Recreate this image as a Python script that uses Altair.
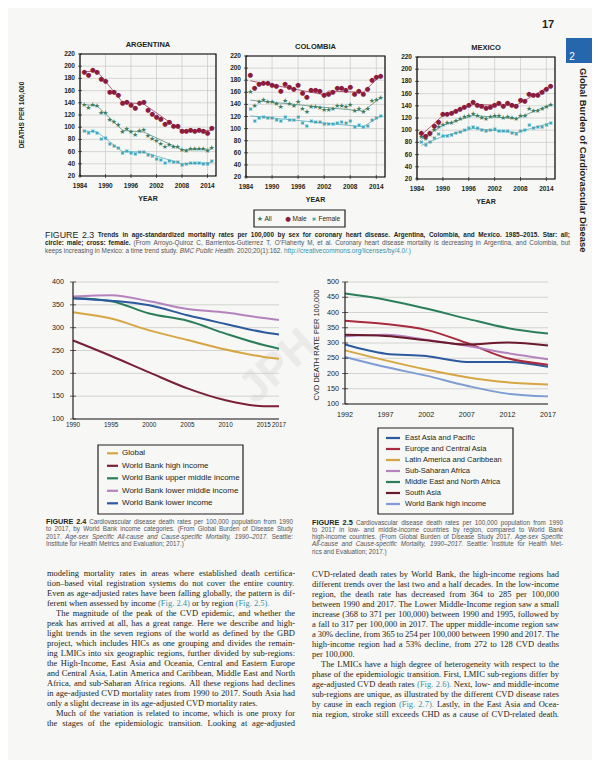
import altair as alt
import pandas as pd

BG = '#f7f7f5'
PANEL_BG = '#f7f7f5'
INK = '#231f20'
GRID = '#c9c9c9'
SANS = 'Liberation Sans'
SERIF = 'Liberation Serif'
GLYPH_FONT = 'DejaVu Sans'

# ---------------- Figure 2.3 data ----------------
YEARS = list(range(1985, 2016))
SEXES = ['All', 'Male', 'Female']
SEX_COLORS = ['#3d7d63', '#8c1c3e', '#3aa5b6']
SEX_GLYPHS = ['★', '●', '✖']
P_XTICKS = [1984, 1990, 1996, 2002, 2008, 2014]
P_YTICKS = [20, 40, 60, 80, 100, 120, 140, 160, 180, 200, 220]

ARG_ALL = [137, 132, 137, 134, 124, 124, 112, 108, 103, 92, 97, 92, 88, 93, 95, 86, 81, 77, 73, 68, 71, 68, 68, 62, 61, 65, 65, 64, 64, 61, 66]
ARG_MALE = [190, 186, 194, 191, 179, 175, 158, 158, 153, 139, 142, 136, 132, 140, 142, 128, 122, 117, 113, 106, 108, 102, 102, 93, 93, 95, 93, 95, 94, 91, 98]
ARG_FEMALE = [94, 90, 93, 91, 81, 82, 73, 70, 66, 58, 61, 58, 56, 60, 60, 54, 52, 48, 47, 42, 44, 43, 43, 38, 39, 42, 42, 41, 40, 39, 44]

COL_ALL = [160, 138, 144, 147, 144, 144, 140, 136, 145, 140, 138, 144, 133, 128, 136, 135, 134, 130, 130, 132, 137, 137, 135, 139, 129, 132, 128, 133, 145, 148, 151]
COL_MALE = [189, 167, 174, 176, 175, 172, 171, 162, 173, 169, 166, 172, 159, 153, 163, 163, 162, 156, 158, 161, 167, 167, 164, 169, 158, 162, 157, 165, 181, 186, 187]
COL_FEMALE = [133, 113, 117, 120, 117, 117, 115, 113, 120, 115, 115, 119, 110, 104, 112, 111, 111, 107, 107, 107, 110, 111, 109, 113, 103, 106, 102, 104, 114, 118, 121]

MEX_ALL = [89, 85, 92, 101, 106, 109, 111, 112, 115, 118, 122, 123, 127, 123, 120, 119, 122, 123, 124, 120, 122, 120, 118, 124, 124, 134, 131, 131, 134, 138, 142]
MEX_MALE = [96, 91, 95, 107, 114, 126, 127, 129, 132, 134, 138, 141, 146, 142, 140, 137, 138, 141, 144, 140, 144, 141, 140, 149, 148, 160, 157, 158, 163, 168, 173]
MEX_FEMALE = [80, 76, 80, 88, 93, 90, 91, 92, 95, 97, 100, 103, 105, 103, 100, 99, 100, 102, 98, 99, 98, 96, 94, 98, 100, 108, 103, 106, 105, 108, 112]

# joinpoint trend vertices
ARG_TR_YEARS = [1985, 1988, 1994, 1999, 2008, 2015]
ARG_TR_ALL = [137, 135, 95, 92, 63, 64]
ARG_TR_MALE = [191, 192, 141, 138, 94, 95]
ARG_TR_FEMALE = [94, 92, 60, 59, 40, 42]
COL_TR_YEARS_AF = [1985, 2011, 2015]
COL_TR_ALL = [147, 129, 151]
COL_TR_FEMALE = [121, 103, 121]
COL_TR_YEARS_M = [1985, 2002, 2003, 2011, 2015]
COL_TR_MALE = [179, 156, 162, 160, 188]
MEX_TR_YEARS = [1985, 1990, 1997, 2007, 2015]
MEX_TR_ALL = [85, 108, 124, 119, 142]
MEX_TR_MALE = [92, 124, 142, 141, 173]
MEX_TR_FEMALE = [75, 90, 103, 96, 112]

# ---------------- Figure 2.4 data ----------------
F24_YEARS = [1990, 1995, 2000, 2005, 2010, 2015, 2017]
F24_NAMES = ['Global', 'World Bank high income', 'World Bank upper middle income',
             'World Bank lower middle income', 'World Bank lower income']
F24_COLORS = ['#d6a642', '#7a1f35', '#2a7f5a', '#b483be', '#2c5aa0']
F24_GLOBAL = [334, 320, 294, 273, 252, 236, 232]
F24_HIGH = [272, 238, 202, 167, 141, 128, 128]
F24_UPPER = [365, 358, 331, 315, 287, 262, 254]
F24_LOWER_MID = [368, 371, 358, 341, 333, 321, 317]
F24_LOWER = [364, 359, 349, 327, 308, 290, 285]
F24_XTICKS = [1990, 1995, 2000, 2005, 2010, 2015, 2017]
F24_YTICKS = [100, 150, 200, 250, 300, 350, 400]

# ---------------- Figure 2.5 data ----------------
F25_YEARS = [1992, 1997, 2002, 2007, 2012, 2017]
F25_NAMES = ['East Asia and Pacific', 'Europe and Central Asia', 'Latin America and Caribbean',
             'Sub-Saharan Africa', 'Middle East and North Africa', 'South Asia', 'World Bank high income']
F25_COLORS = ['#2c5aa0', '#a82a3c', '#d6a642', '#b483be', '#2a7f5a', '#6b1a2c', '#7d9dd4']
F25_EAP = [295, 265, 257, 238, 238, 222]
F25_ECA = [373, 362, 343, 300, 250, 229]
F25_LAC = [276, 243, 213, 188, 171, 164]
F25_SSA = [322, 327, 311, 291, 267, 247]
F25_MENA = [462, 442, 413, 380, 349, 331]
F25_SA = [327, 323, 309, 295, 302, 292]
F25_HI = [254, 221, 193, 160, 134, 125]
F25_XTICKS = [1992, 1997, 2002, 2007, 2012, 2017]
F25_YTICKS = [100, 150, 200, 250, 300, 350, 400, 450, 500]

# ---------------- text ----------------
def L(segs, just=True, indent=0):
    if isinstance(segs, str):
        segs = [(segs, 'body')]
    return (segs, just, indent)

CAP23 = [
    L([('FIGURE 2.3', 'fig3'), ('Trends in age-standardized mortality rates per 100,000 by sex for coronary heart disease. Argentina, Colombia, and Mexico. 1985–2015. Star: all;', 'capb')]),
    L([('circle: male; cross: female.', 'capb'), ('(From Arroyo-Quiroz C, Barrientos-Gutierrez T, O’Flaherty M, et al. Coronary heart disease mortality is decreasing in Argentina, and Colombia, but', 'cap')]),
    L([('keeps increasing in Mexico: a time trend study.', 'cap'), ('BMC Public Health.', 'capi'), ('2020;20(1):162.', 'cap'), ('http://creativecommons.org/licenses/by/4.0/.)', 'link')], False),
]
CAP24 = [
    L([('FIGURE 2.4', 'figb'), ('Cardiovascular disease death rates per 100,000 population from 1990', 'cap')]),
    L([('to 2017, by World Bank income categories. (From Global Burden of Disease Study', 'cap')]),
    L([('2017.', 'cap'), ('Age-sex Specific All-cause and Cause-specific Mortality, 1990–2017.', 'capi'), ('Seattle:', 'cap')]),
    L([('Institute for Health Metrics and Evaluation; 2017.)', 'cap')], False),
]
CAP25 = [
    L([('FIGURE 2.5', 'figb'), ('Cardiovascular disease death rates per 100,000 population from 1990', 'cap')]),
    L([('to 2017 in low- and middle-income countries by region, compared to World Bank', 'cap')]),
    L([('high-income countries. (From Global Burden of Disease Study 2017.', 'cap'), ('Age-sex Specific', 'capi')]),
    L([('All-cause and Cause-specific Mortality, 1990–2017.', 'capi'), ('Seattle: Institute for Health Met-', 'cap')]),
    L([('rics and Evaluation; 2017.)', 'cap')], False),
]
BODY_LEFT = [
    L('modeling mortality rates in areas where established death certifica-'),
    L('tion–based vital registration systems do not cover the entire country.'),
    L('Even as age-adjusted rates have been falling globally, the pattern is dif-'),
    L([('ferent when assessed by income', 'body'), ('(Fig. 2.4)', 'ref'), ('or by region', 'body'), ('(Fig. 2.5).', 'ref')], False),
    L('The magnitude of the peak of the CVD epidemic, and whether the', True, 9),
    L('peak has arrived at all, has a great range. Here we describe and high-'),
    L('light trends in the seven regions of the world as defined by the GBD'),
    L('project, which includes HICs as one grouping and divides the remain-'),
    L('ing LMICs into six geographic regions, further divided by sub-regions:'),
    L('the High-Income, East Asia and Oceania, Central and Eastern Europe'),
    L('and Central Asia, Latin America and Caribbean, Middle East and North'),
    L('Africa, and sub-Saharan Africa regions. All these regions had declines'),
    L('in age-adjusted CVD mortality rates from 1990 to 2017. South Asia had'),
    L('only a slight decrease in its age-adjusted CVD mortality rates.', False),
    L('Much of the variation is related to income, which is one proxy for', True, 9),
    L('the stages of the epidemiologic transition. Looking at age-adjusted'),
]
BODY_RIGHT = [
    L('CVD-related death rates by World Bank, the high-income regions had'),
    L('different trends over the last two and a half decades. In the low-income'),
    L('region, the death rate has decreased from 364 to 285 per 100,000'),
    L('between 1990 and 2017. The Lower Middle-Income region saw a small'),
    L('increase (368 to 371 per 100,000) between 1990 and 1995, followed by'),
    L('a fall to 317 per 100,000 in 2017. The upper middle-income region saw'),
    L('a 30% decline, from 365 to 254 per 100,000 between 1990 and 2017. The'),
    L('high-income region had a 53% decline, from 272 to 128 CVD deaths'),
    L('per 100,000.', False),
    L('The LMICs have a high degree of heterogeneity with respect to the', True, 9),
    L('phase of the epidemiologic transition. First, LMIC sub-regions differ by'),
    L([('age-adjusted CVD death rates', 'body'), ('(Fig. 2.6).', 'ref'), ('Next, low- and middle-income', 'body')]),
    L('sub-regions are unique, as illustrated by the different CVD disease rates'),
    L([('by cause in each region', 'body'), ('(Fig. 2.7).', 'ref'), ('Lastly, in the East Asia and Ocea-', 'body')]),
    L('nia region, stroke still exceeds CHD as a cause of CVD-related death.'),
]

# ---------------- font metrics (for justification) ----------------
def _tbl(lc, uc, digit, extra):
    d = dict(zip('abcdefghijklmnopqrstuvwxyz', lc))
    d.update(zip('ABCDEFGHIJKLMNOPQRSTUVWXYZ', uc))
    d.update({c: digit for c in '0123456789'})
    d.update(extra)
    return d

METRICS = {
    'sans': _tbl([556, 556, 500, 556, 556, 278, 556, 556, 222, 222, 500, 222, 833, 556, 556, 556, 556, 333, 500, 278, 556, 500, 722, 500, 500, 500],
                 [667, 667, 722, 722, 667, 611, 778, 722, 278, 500, 667, 556, 833, 722, 778, 667, 778, 722, 667, 611, 722, 667, 944, 667, 667, 611],
                 556, {' ': 278, '.': 278, ',': 278, ':': 278, ';': 278, '(': 333, ')': 333, '-': 333, '–': 556, '/': 278, "'": 191, '’': 222, '%': 889}),
    'sansb': _tbl([556, 611, 556, 611, 556, 333, 611, 611, 278, 278, 556, 278, 889, 611, 611, 611, 611, 389, 556, 333, 611, 556, 778, 556, 556, 500],
                  [722, 722, 722, 722, 667, 611, 778, 722, 278, 556, 722, 611, 833, 722, 778, 667, 778, 722, 667, 611, 722, 667, 944, 667, 667, 611],
                  556, {' ': 278, '.': 278, ',': 278, ':': 333, ';': 333, '(': 333, ')': 333, '-': 333, '–': 556, '/': 278, "'": 238, '’': 278, '%': 889}),
    'serif': _tbl([444, 500, 444, 500, 444, 333, 500, 500, 278, 278, 500, 278, 778, 500, 500, 500, 500, 333, 389, 278, 500, 500, 722, 500, 500, 444],
                  [722, 667, 667, 722, 611, 556, 722, 722, 333, 389, 722, 611, 889, 722, 722, 556, 722, 667, 556, 611, 722, 722, 944, 722, 722, 611],
                  500, {' ': 250, '.': 250, ',': 250, ':': 278, ';': 278, '(': 333, ')': 333, '-': 333, '–': 500, '/': 278, "'": 180, '’': 333, '%': 833}),
}

STYLES = {
    'body': dict(m='serif', font=SERIF, weight='normal', italic=False, color=INK, rel=1.0),
    'ref': dict(m='serif', font=SERIF, weight='normal', italic=False, color='#3b92a6', rel=1.0),
    'cap': dict(m='sans', font=SANS, weight='normal', italic=False, color='#555555', rel=1.0),
    'capi': dict(m='sans', font=SANS, weight='normal', italic=True, color='#555555', rel=1.0),
    'capb': dict(m='sansb', font=SANS, weight='bold', italic=False, color=INK, rel=1.0),
    'link': dict(m='sans', font=SANS, weight='normal', italic=False, color='#3b92a6', rel=1.0),
    'fig3': dict(m='sans', font=SANS, weight='normal', italic=False, color=INK, rel=1.38),
    'figb': dict(m='sansb', font=SANS, weight='bold', italic=False, color=INK, rel=1.15),
}


def text_em(s, m):
    t = METRICS[m]
    return sum(t.get(c, 556) for c in s) / 1000.0


def words_of(segs):
    out = []
    for txt, st in segs:
        for w in txt.split(' '):
            if w:
                out.append((w, st))
    return out


def fit_size(lines, width, nominal, min_gap=0.22):
    fs = nominal
    for segs, just, indent in lines:
        ws = words_of(segs)
        em = sum(text_em(w, STYLES[st]['m']) * STYLES[st]['rel'] for w, st in ws)
        fs = min(fs, (width - indent) / (em + (len(ws) - 1) * min_gap))
    return fs


def layout(block, lines, x0, width, y0, lh, fs):
    rows = []
    for i, (segs, just, indent) in enumerate(lines):
        ws = words_of(segs)
        wid = [text_em(w, STYLES[st]['m']) * STYLES[st]['rel'] * fs for w, st in ws]
        if just and len(ws) > 1:
            gap = (width - indent - sum(wid)) / (len(ws) - 1)
        else:
            gap = text_em(' ', STYLES[ws[0][1]]['m']) * fs
        x = x0 + indent
        for (w, st), wd in zip(ws, wid):
            rows.append({'block': block, 'st': st, 'w': w, 'px': round(x, 2),
                         'py': round(y0 + i * lh, 2), 'fs': round(fs * STYLES[st]['rel'], 2)})
            x += wd + gap
    return rows


# ---------------- scales ----------------
def PX(field):
    return alt.X(field, scale=alt.Scale(domain=[8, 592], range=[0, 584], nice=False, zero=False), axis=None)


def PY(field):
    return alt.Y(field, scale=alt.Scale(domain=[8, 760], range=[0, 752], nice=False, zero=False), axis=None)


def page_text(df, **kw):
    base = dict(align='left', baseline='middle', font=SANS, color=INK)
    base.update(kw)
    return alt.Chart(df).mark_text(**base).encode(x=PX('px:Q'), y=PY('py:Q'), text='t:N')


def text_layers(rows):
    df = pd.DataFrame(rows)
    out = []
    for (blk, st), sub in df.groupby(['block', 'st'], sort=False):
        S = STYLES[st]
        kw = dict(fontSize=float(sub['fs'].iloc[0]), fontWeight=S['weight'], color=S['color'], font=S['font'])
        if S['italic']:
            kw['fontStyle'] = 'italic'
        d = sub[['w', 'px', 'py']].rename(columns={'w': 't'}).reset_index(drop=True)
        out.append(page_text(d, **kw))
    return out


class Frame:
    """A sub-plot: independent linear scales mapped onto a page box."""

    def __init__(self, xdom, ydom, box):
        self.xdom, self.ydom = xdom, ydom
        self.x0, self.x1, self.y0, self.y1 = box

    def X(self, f):
        return alt.X(f, scale=alt.Scale(domain=self.xdom, range=[self.x0 - 8, self.x1 - 8], nice=False, zero=False), axis=None)

    def Y(self, f):
        return alt.Y(f, scale=alt.Scale(domain=self.ydom, range=[self.y1 - 8, self.y0 - 8], nice=False, zero=False), axis=None)


def series_line(fr, years, values, color, **kw):
    d = pd.DataFrame({'year': years, 'value': values})
    return alt.Chart(d).mark_line(color=color, **kw).encode(x=fr.X('year:Q'), y=fr.Y('value:Q'))


GLYPH_SIZE = {'★': 7, '●': 6.5, '✖': 5.3}


def glyph_layer(x_enc, y_enc, d, glyph, color):
    return alt.Chart(d).mark_text(text=glyph, font=GLYPH_FONT, fontSize=GLYPH_SIZE[glyph], color=color,
                                  align='center', baseline='middle').encode(x=x_enc, y=y_enc)


def panel_layers(fr, title, series, trends):
    xlo, xhi = fr.xdom
    ylo, yhi = fr.ydom
    out = []
    box = pd.DataFrame({'a': [xlo], 'b': [xhi], 'c': [ylo], 'd': [yhi]})
    out.append(alt.Chart(box).mark_rect(fill=PANEL_BG).encode(x=fr.X('a:Q'), x2='b:Q', y=fr.Y('c:Q'), y2='d:Q'))
    vg = pd.DataFrame({'v': P_XTICKS, 'lo': ylo, 'hi': yhi, 'lab': [str(t) for t in P_XTICKS]})
    hg = pd.DataFrame({'v': P_YTICKS, 'lo': xlo, 'hi': xhi, 'lab': [str(t) for t in P_YTICKS]})
    out.append(alt.Chart(vg).mark_rule(color=GRID, strokeWidth=0.7).encode(x=fr.X('v:Q'), y=fr.Y('lo:Q'), y2='hi:Q'))
    out.append(alt.Chart(hg).mark_rule(color=GRID, strokeWidth=0.7).encode(y=fr.Y('v:Q'), x=fr.X('lo:Q'), x2='hi:Q'))
    # joinpoint trend lines, one layer per sex
    for color, (yy, vv) in zip(SEX_COLORS, trends):
        out.append(series_line(fr, yy, vv, color, strokeWidth=0.8, opacity=0.85))
    # observed rates, one layer per sex (star / circle / cross)
    for color, glyph, vals in zip(SEX_COLORS, SEX_GLYPHS, series):
        d = pd.DataFrame({'year': YEARS, 'value': vals})
        out.append(glyph_layer(fr.X('year:Q'), fr.Y('value:Q'), d, glyph, color))
    # frame
    out.append(alt.Chart(box).mark_rect(fillOpacity=0, stroke='black', strokeWidth=1.2).encode(
        x=fr.X('a:Q'), x2='b:Q', y=fr.Y('c:Q'), y2='d:Q'))
    # ticks and labels
    out.append(alt.Chart(vg).mark_tick(orient='vertical', size=4, thickness=1, color=INK).encode(x=fr.X('v:Q'), y=fr.Y('lo:Q')))
    out.append(alt.Chart(hg).mark_tick(orient='horizontal', size=4, thickness=1, color=INK).encode(y=fr.Y('v:Q'), x=fr.X('lo:Q')))
    lab = dict(fontSize=6.5, fontWeight='bold', color=INK, font=SANS, baseline='middle')
    out.append(alt.Chart(vg).mark_text(dy=9.5, align='center', **lab).encode(x=fr.X('v:Q'), y=fr.Y('lo:Q'), text='lab:N'))
    out.append(alt.Chart(hg).mark_text(dx=-5, align='right', **lab).encode(y=fr.Y('v:Q'), x=fr.X('lo:Q'), text='lab:N'))
    mid = pd.DataFrame({'m': [(xlo + xhi) / 2], 'lo': [ylo], 'hi': [yhi], 'ttl': [title], 'yr': ['YEAR']})
    out.append(alt.Chart(mid).mark_text(dy=22.5, align='center', fontSize=7, fontWeight='bold', color=INK, font=SANS,
                                        baseline='middle').encode(x=fr.X('m:Q'), y=fr.Y('lo:Q'), text='yr:N'))
    out.append(alt.Chart(mid).mark_text(dy=-9.5, align='center', fontSize=7.5, fontWeight='bold', color=INK, font=SANS,
                                        baseline='middle').encode(x=fr.X('m:Q'), y=fr.Y('hi:Q'), text='ttl:N'))
    return out


def line_fig_layers(fr, years, series, colors, xticks, yticks, xlab_dy, ylab_dx, xlab_fs):
    xlo, xhi = fr.xdom
    ylo, yhi = fr.ydom
    out = []
    hg = pd.DataFrame({'v': yticks, 'lo': xlo, 'hi': xhi, 'lab': [str(t) for t in yticks]})
    xg = pd.DataFrame({'v': xticks, 'lo': ylo, 'lab': [str(t) for t in xticks]})
    out.append(alt.Chart(hg).mark_rule(color=GRID, strokeWidth=0.8).encode(y=fr.Y('v:Q'), x=fr.X('lo:Q'), x2='hi:Q'))
    for vals, color in zip(series, colors):
        out.append(series_line(fr, years, vals, color, strokeWidth=2, interpolate='monotone'))
    axes = pd.DataFrame({'xa': [xlo], 'xb': [xhi], 'ya': [ylo], 'yb': [yhi]})
    out.append(alt.Chart(axes).mark_rule(color=INK, strokeWidth=1.2).encode(x=fr.X('xa:Q'), y=fr.Y('ya:Q'), y2='yb:Q'))
    out.append(alt.Chart(axes).mark_rule(color=INK, strokeWidth=1).encode(y=fr.Y('ya:Q'), x=fr.X('xa:Q'), x2='xb:Q'))
    out.append(alt.Chart(hg).mark_tick(orient='horizontal', size=6, thickness=1, color=INK).encode(y=fr.Y('v:Q'), x=fr.X('lo:Q')))
    out.append(alt.Chart(hg).mark_text(dx=ylab_dx, align='right', fontSize=7.2, color=INK, font=SANS,
                                       baseline='middle').encode(y=fr.Y('v:Q'), x=fr.X('lo:Q'), text='lab:N'))
    out.append(alt.Chart(xg).mark_text(dy=xlab_dy, align='center', fontSize=xlab_fs, color=INK, font=SANS,
                                       baseline='middle').encode(x=fr.X('v:Q'), y=fr.Y('lo:Q'), text='lab:N'))
    return out


def legend_lines(names, colors, x_sym0, x_sym1, x_lab, ys, fs):
    out = []
    for n, c, y in zip(names, colors, ys):
        d = pd.DataFrame({'a': [x_sym0], 'b': [x_sym1], 'py': [y]})
        out.append(alt.Chart(d).mark_rule(strokeWidth=2.2, color=c).encode(x=PX('a:Q'), x2='b:Q', y=PY('py:Q')))
    df = pd.DataFrame({'t': names, 'px': x_lab, 'py': ys})
    out.append(page_text(df, fontSize=fs, color=INK))
    return out


def box_layer(x0, x1, y0, y1, **kw):
    d = pd.DataFrame({'a': [x0], 'b': [x1], 'c': [y0], 'd': [y1]})
    return alt.Chart(d).mark_rect(**kw).encode(x=PX('a:Q'), x2='b:Q', y=PY('c:Q'), y2='d:Q')


# ---------------- assemble ----------------
layers = []

# page decorations
layers.append(page_text(pd.DataFrame({'t': ['17'], 'px': [548], 'py': [25]}), fontSize=11, fontWeight='bold', align='center'))
layers.append(box_layer(566, 592, 38, 63, fill='#2566ad'))
layers.append(page_text(pd.DataFrame({'t': ['2'], 'px': [572], 'py': [57]}), fontSize=10, color='white', align='center'))
layers.append(page_text(pd.DataFrame({'t': ['Global Burden of Cardiovascular Disease'], 'px': [583], 'py': [68]}),
                        fontSize=9.4, fontWeight='bold', angle=90))
layers.append(page_text(pd.DataFrame({'t': ['JPH'], 'px': [278], 'py': [367]}), fontSize=44, fontWeight='bold',
                        color='#eaeae8', angle=318, align='center'))

# Figure 2.3 panels
FR_ARG = Frame([1984, 2016], [20, 220], (80, 216, 54, 176))
FR_COL = Frame([1984, 2016], [20, 220], (246, 385, 56, 177))
FR_MEX = Frame([1984, 2016], [20, 220], (417, 555, 57, 179))
layers += panel_layers(FR_ARG, 'ARGENTINA', [ARG_ALL, ARG_MALE, ARG_FEMALE],
                       [(ARG_TR_YEARS, ARG_TR_ALL), (ARG_TR_YEARS, ARG_TR_MALE), (ARG_TR_YEARS, ARG_TR_FEMALE)])
layers += panel_layers(FR_COL, 'COLOMBIA', [COL_ALL, COL_MALE, COL_FEMALE],
                       [(COL_TR_YEARS_AF, COL_TR_ALL), (COL_TR_YEARS_M, COL_TR_MALE), (COL_TR_YEARS_AF, COL_TR_FEMALE)])
layers += panel_layers(FR_MEX, 'MEXICO', [MEX_ALL, MEX_MALE, MEX_FEMALE],
                       [(MEX_TR_YEARS, MEX_TR_ALL), (MEX_TR_YEARS, MEX_TR_MALE), (MEX_TR_YEARS, MEX_TR_FEMALE)])
layers.append(page_text(pd.DataFrame({'t': ['DEATHS PER 100,000'], 'px': [22], 'py': [115]}), fontSize=6.5,
                        fontWeight='bold', angle=270, align='center'))

# Figure 2.3 legend
layers.append(box_layer(254, 345, 210, 227, fillOpacity=0, stroke=INK, strokeWidth=1.2))
LEG23_SYM_X = [260, 288, 314]
for sx, color, glyph in zip(LEG23_SYM_X, SEX_COLORS, SEX_GLYPHS):
    d = pd.DataFrame({'px': [sx], 'py': [218.5]})
    layers.append(glyph_layer(PX('px:Q'), PY('py:Q'), d, glyph, color))
layers.append(page_text(pd.DataFrame({'t': SEXES, 'px': [x + 4.5 for x in LEG23_SYM_X], 'py': [218.5] * 3}),
                        fontSize=6.5))

# Figure 2.4
FR_24 = Frame([1990, 2017], [100, 400], (73, 279, 282, 419))
layers += line_fig_layers(FR_24, F24_YEARS, [F24_GLOBAL, F24_HIGH, F24_UPPER, F24_LOWER_MID, F24_LOWER],
                          F24_COLORS, F24_XTICKS, F24_YTICKS, 5.5, -9, 6.4)
layers.append(box_layer(98, 243, 445, 514, fillOpacity=0, stroke=INK, strokeWidth=1.2))
layers += legend_lines(F24_NAMES, F24_COLORS, 107, 118, 122, [453.3 + 12.5 * i for i in range(5)], 8)

# Figure 2.5
FR_25 = Frame([1992, 2017], [100, 500], (345, 548, 282, 404))
layers += line_fig_layers(FR_25, F25_YEARS, [F25_EAP, F25_ECA, F25_LAC, F25_SSA, F25_MENA, F25_SA, F25_HI],
                          F25_COLORS, F25_XTICKS, F25_YTICKS, 11, -6, 7.2)
layers.append(page_text(pd.DataFrame({'t': ['CVD DEATH RATE PER 100,000'], 'px': [317], 'py': [345]}),
                        fontSize=7.5, angle=270, align='center'))
layers.append(box_layer(378, 513, 428, 514, fillOpacity=0, stroke=INK, strokeWidth=1.2))
layers += legend_lines(F25_NAMES, F25_COLORS, 386, 400, 405, [438 + 11 * i for i in range(7)], 7.5)

# captions and body text
fs23 = fit_size(CAP23, 525, 6.4)
fs24 = fit_size(CAP24, 247, 6.3)
fs25 = fit_size(CAP25, 251, 6.3)
fs_body = min(fit_size(BODY_LEFT, 248, 8.6), fit_size(BODY_RIGHT, 247, 8.6))
rows = (layout('c23', CAP23, 45, 525, 235, 8, fs23)
        + layout('c24', CAP24, 46, 247, 522, 7.4, fs24)
        + layout('c25', CAP25, 312, 251, 522.5, 7.3, fs25)
        + layout('bl', BODY_LEFT, 47, 248, 573, 10, fs_body)
        + layout('br', BODY_RIGHT, 312, 247, 574, 10, fs_body))
layers += text_layers(rows)

chart = alt.layer(*layers).resolve_scale(x='independent', y='independent').properties(
    width=584, height=752, padding=0, background=BG,
    autosize=alt.AutoSizeParams(type='none'),
    view=alt.ViewBackground(stroke='transparent')
)

chart.save('out.html', embed_options={'renderer': 'svg', 'actions': False})
